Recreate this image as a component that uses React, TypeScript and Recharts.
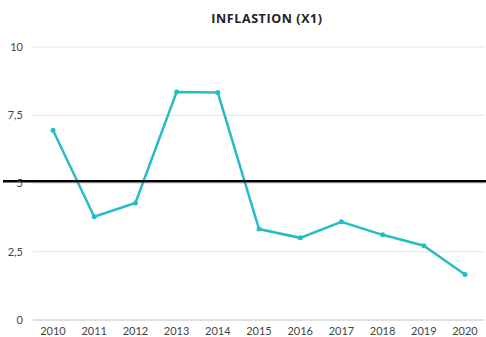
import { LineChart, Line, XAxis, YAxis, CartesianGrid, ReferenceLine } from "recharts";

const years = ["2010", "2011", "2012", "2013", "2014", "2015", "2016", "2017", "2018", "2019", "2020"];
const inflation = [6.95, 3.78, 4.29, 8.35, 8.33, 3.33, 3.01, 3.6, 3.12, 2.72, 1.67];
const yTicks = [0, 2.5, 5, 7.5, 10];
const threshold = 5.08;

const data = years.map((year, i) => ({ year, value: inflation[i] }));

const fmt = (v: number) => String(v).replace(".", ",");

export default function App() {
  return (
    <div style={{ position: "absolute", left: 0, top: 0, width: 486, height: 337, background: "#fff" }}>
      <div
        style={{
          position: "absolute",
          top: 10,
          left: 0,
          width: 534,
          textAlign: "center",
          fontFamily: "'Open Sans', sans-serif",
          fontWeight: 700,
          fontSize: 12.5,
          color: "#222",
          letterSpacing: 0.6,
        }}
      >
        INFLASTION (X1)
      </div>
      <LineChart width={486} height={337} data={data} margin={{ top: 47, right: 1, left: 0, bottom: 0 }}>
        <CartesianGrid vertical={false} stroke="#e4e4e4" />
        <XAxis
          dataKey="year"
          height={17}
          padding={{ left: 20, right: 20 }}
          axisLine={{ stroke: "#cfcfcf" }}
          tickLine={false}
          tickMargin={1}
          tick={{ fill: "#444", fontSize: 11, fontFamily: "Lato, sans-serif" }}
        />
        <YAxis
          width={33}
          domain={[0, 10]}
          ticks={yTicks}
          axisLine={false}
          tickLine={false}
          tickMargin={4}
          tickFormatter={fmt}
          tick={{ fill: "#444", fontSize: 11, fontFamily: "Lato, sans-serif" }}
        />
        <Line
          type="linear"
          dataKey="value"
          stroke="#27bdc6"
          strokeWidth={2.5}
          dot={{ r: 2.5, fill: "#27bdc6", stroke: "#27bdc6", strokeWidth: 0 }}
          isAnimationActive={false}
        />
        <ReferenceLine
          y={threshold}
          ifOverflow="visible"
          shape={(p: any) => (
            <line x1={3} x2={486} y1={p.y1} y2={p.y2} stroke="#000" strokeWidth={2.5} />
          )}
        />
      </LineChart>
    </div>
  );
}
